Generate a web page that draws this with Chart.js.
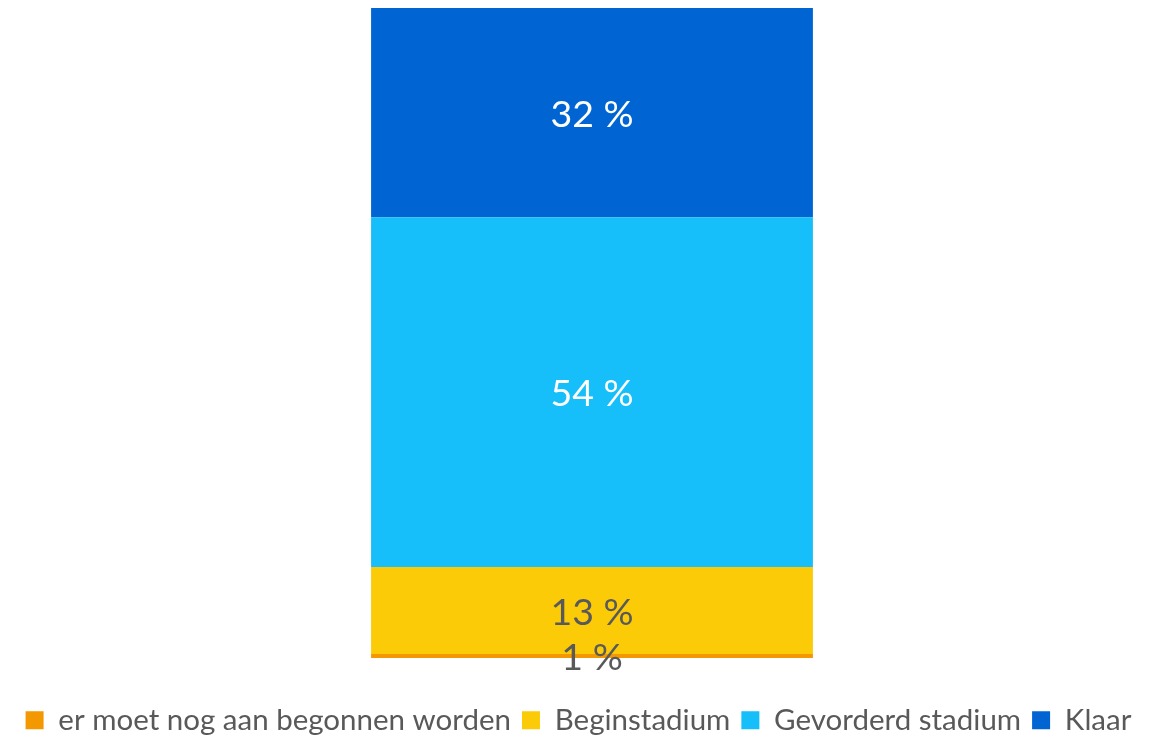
<!DOCTYPE html>
<html>
<head>
<meta charset="utf-8">
<script src="https://cdn.jsdelivr.net/npm/chart.js@4"></script>
<style>
  html, body { margin: 0; padding: 0; background: #fff; }
  #wrap { width: 1157px; height: 737px; }
</style>
</head>
<body>
<div id="wrap"><canvas id="statusChart"></canvas></div>
<script>
// categories / series
var categories = [''];
var seriesNames = ['er moet nog aan begonnen worden', 'Beginstadium', 'Gevorderd stadium', 'Klaar'];
var orangeValues = [0.6];
var yellowValues = [13.4];
var lightBlueValues = [53.8];
var darkBlueValues = [32.2];
var seriesColors = ['rgb(243, 152, 0)', 'rgb(252, 203, 8)', 'rgb(22, 190, 250)', 'rgb(0, 101, 211)'];
var labelColors = ['#595959', '#595959', '#ffffff', '#ffffff'];

// draws the "xx %" labels in the middle of each segment
var segmentLabels = {
    id: 'segmentLabels',
    afterDatasetsDraw: function (chart) {
        var ctx = chart.ctx;
        ctx.save();
        ctx.font = '37.5px Lato';
        ctx.textAlign = 'center';
        ctx.textBaseline = 'middle';
        chart.data.datasets.forEach(function (ds, i) {
            var meta = chart.getDatasetMeta(i);
            meta.data.forEach(function (bar, j) {
                var cy = (bar.y + bar.base) / 2;
                ctx.fillStyle = labelColors[i];
                ctx.fillText(Math.round(ds.data[j]) + ' %', bar.x, cy + 2);
            });
        });
        ctx.restore();
    }
};

// legend is a bit too tall by default, trim it
var legendTrim = {
    id: 'legendTrim',
    beforeInit: function (chart) {
        var fit = chart.legend.fit;
        chart.legend.fit = function () {
            fit.bind(chart.legend)();
            this.height -= 8;
        };
    }
};

var datasets = [orangeValues, yellowValues, lightBlueValues, darkBlueValues].map(function (vals, i) {
    return {
        label: seriesNames[i],
        data: vals,
        backgroundColor: seriesColors[i],
        borderWidth: 0,
        barPercentage: 1,
        categoryPercentage: 0.391
    };
});

// empty axis titles are only used as spacers
var spacer = function (size) {
    return { display: true, text: ' ', color: 'rgba(0,0,0,0)', font: { size: size }, padding: 0 };
};

new Chart(document.getElementById('statusChart'), {
    type: 'bar',
    data: { labels: categories, datasets: datasets },
    options: {
        responsive: true,
        maintainAspectRatio: false,
        animation: false,
        layout: { padding: { left: 0, right: 0, top: 8, bottom: 0 } },
        scales: {
            x: {
                stacked: true,
                grid: { display: false, drawTicks: false },
                border: { display: false },
                ticks: { display: false },
                title: spacer(30.5)
            },
            y: {
                stacked: true,
                min: 0,
                max: 100,
                grid: { display: false, drawTicks: false },
                border: { display: false },
                ticks: { display: false },
                title: spacer(22.5)
            }
        },
        plugins: {
            tooltip: { enabled: false },
            legend: {
                position: 'bottom',
                labels: {
                    font: { family: 'Lato', size: 29.5 },
                    color: '#595959',
                    boxWidth: 18,
                    boxHeight: 18,
                    padding: 11
                }
            }
        }
    },
    plugins: [segmentLabels, legendTrim]
});
</script>
</body>
</html>
